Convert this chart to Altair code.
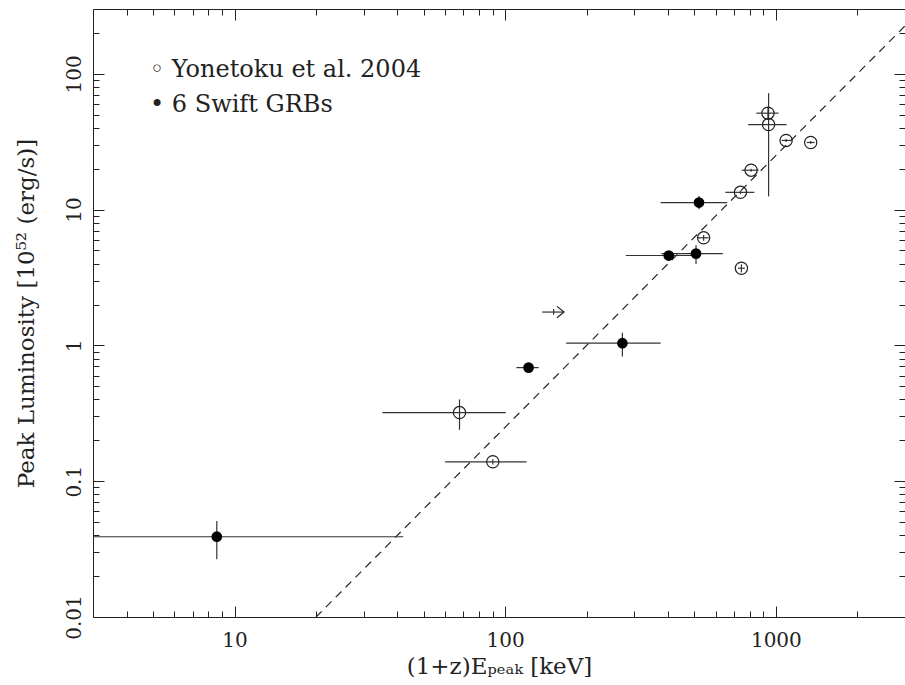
import altair as alt
import pandas as pd

# ---------------- data ----------------
# Yonetoku et al. 2004 (open circles)
yon_x   = [67.8, 90.0, 541, 746, 740, 810, 940, 935, 1091, 1345]
yon_y   = [0.32, 0.139, 6.2, 3.70, 13.4, 19.5, 42.3, 51.3, 32.3, 31.2]
yon_xlo = [35.2, 60.0, 515, 725, 651, 748, 790, 847, 1050, 1300]
yon_xhi = [100.5, 120.0, 565, 768, 833, 863, 1095, 1023, 1130, 1390]
yon_ylo = [0.239, 0.133, 5.9, 3.45, 13.0, 19.0, 12.5, 46.3, 31.5, 30.5]
yon_yhi = [0.40, 0.145, 6.5, 3.95, 13.8, 20.0, 72.0, 56.8, 33.1, 32.0]

# 6 Swift GRBs (filled circles)
swift_x   = [8.6, 122, 271, 402, 507, 520]
swift_y   = [0.039, 0.686, 1.038, 4.59, 4.74, 11.27]
swift_xlo = [2.0, 110, 168, 279, 378, 375]
swift_xhi = [42, 133, 375, 495, 637, 661]
swift_ylo = [0.0266, 0.686, 0.827, 4.59, 3.98, 10.07]
swift_yhi = [0.051, 0.686, 1.24, 4.59, 5.47, 12.6]

# lower limit (arrow)
limit_x   = [151]
limit_y   = [1.76]
limit_xlo = [137]
limit_xhi = [165]
limit_ylo = [1.68]
limit_yhi = [1.85]

# dashed relation
fit_x = [20, 3000]
fit_y = [0.01, 225]

# axis ticks
x_major = [10, 100, 1000]
x_minor = [4, 5, 6, 7, 8, 9, 20, 30, 40, 50, 60, 70, 80, 90,
           200, 300, 400, 500, 600, 700, 800, 900, 2000]
y_major = [0.01, 0.1, 1, 10, 100]
y_minor = [0.02, 0.03, 0.04, 0.05, 0.06, 0.07, 0.08, 0.09,
           0.2, 0.3, 0.4, 0.5, 0.6, 0.7, 0.8, 0.9,
           2, 3, 4, 5, 6, 7, 8, 9, 20, 30, 40, 50, 60, 70, 80, 90, 200]

legend_labels = ["\u25e6 Yonetoku et al. 2004", "\u2022 6 Swift GRBs"]
x_title = "(1+z)E\u209a\u2091\u2090\u2096 [keV]"
y_title = "Peak Luminosity [10\u2075\u00b2 (erg/s)]"

# ---------------- tables ----------------
err = pd.DataFrame({
    "x": yon_x + swift_x + limit_x,
    "y": yon_y + swift_y + limit_y,
    "xlo": yon_xlo + swift_xlo + limit_xlo,
    "xhi": yon_xhi + swift_xhi + limit_xhi,
    "ylo": yon_ylo + swift_ylo + limit_ylo,
    "yhi": yon_yhi + swift_yhi + limit_yhi,
})
yon = pd.DataFrame({"x": yon_x, "y": yon_y})
swift = pd.DataFrame({"x": swift_x, "y": swift_y})
lim = pd.DataFrame({"x": limit_x, "y": limit_y, "xlo": limit_xlo, "xhi": limit_xhi})
fit = pd.DataFrame({"x": fit_x, "y": fit_y})

FONT = "DejaVu Serif"
INK = "#222222"
W, H = 812, 608

xs = alt.Scale(type="log", domain=[3, 3000], nice=False)
ys = alt.Scale(type="log", domain=[0.01, 300], nice=False)


def tick_axis(orient, values, size):
    return alt.Axis(orient=orient, values=values, tickSize=size, offset=-size,
                    labels=False, domain=False, grid=False, ticks=True,
                    tickColor=INK, tickWidth=1, title=None)


x_axis_main = alt.Axis(
    orient="bottom", values=x_major, tickSize=11, offset=-11, domain=False, grid=False,
    tickColor=INK, tickWidth=1, labelFont=FONT, labelFontSize=20, labelColor=INK,
    labelPadding=13, labelBaseline="top", labelAlign="center", labelFlush=False,
    labelOverlap=False, format="~g",
    title=x_title, titleFont=FONT, titleFontSize=23, titleFontWeight="normal",
    titleColor=INK, titleY=67, titleBaseline="alphabetic")

y_axis_main = alt.Axis(
    orient="left", values=y_major, tickSize=11, offset=-11, domain=False, grid=False,
    tickColor=INK, tickWidth=1, labelFont=FONT, labelFontSize=20, labelColor=INK,
    labelPadding=13, labelAngle=270, labelAlign="center", labelBaseline="alphabetic",
    labelFlush=False, labelOverlap=False, format="~g",
    title=y_title, titleFont=FONT, titleFontSize=23, titleFontWeight="normal",
    titleColor=INK, titleX=-71, titleY=H / 2, titleAngle=270, titleAlign="center",
    titleBaseline="alphabetic")

fit_line = alt.Chart(fit).mark_line(color=INK, strokeWidth=1.2, strokeDash=[8, 6]).encode(
    x=alt.X("x:Q", scale=xs, axis=x_axis_main),
    y=alt.Y("y:Q", scale=ys, axis=y_axis_main),
)

xerr = alt.Chart(err).mark_rule(color="#333333", strokeWidth=1.2, clip=True).encode(
    x=alt.X("xlo:Q", scale=xs, axis=tick_axis("bottom", x_minor, 6)),
    x2="xhi:Q",
    y=alt.Y("y:Q", scale=ys, axis=tick_axis("left", y_minor, 6)),
)

yerr = alt.Chart(err).mark_rule(color="#333333", strokeWidth=1.2, clip=True).encode(
    x=alt.X("x:Q", scale=xs, axis=tick_axis("top", x_major, 11)),
    y=alt.Y("ylo:Q", scale=ys, axis=tick_axis("right", y_major, 11)),
    y2="yhi:Q",
)

open_pts = alt.Chart(yon).mark_point(shape="circle", filled=False, size=150,
                                     color=INK, strokeWidth=1.2, opacity=1).encode(
    x=alt.X("x:Q", scale=xs, axis=tick_axis("top", x_minor, 6)),
    y=alt.Y("y:Q", scale=ys, axis=tick_axis("right", y_minor, 6)),
)

filled_pts = alt.Chart(swift).mark_point(shape="circle", filled=True, size=115,
                                         color="black", opacity=1).encode(
    x=alt.X("x:Q", scale=xs, axis=None),
    y=alt.Y("y:Q", scale=ys, axis=None),
)

arrow_head = alt.Chart(lim).mark_point(
    shape="M-1,-0.8L0,0L-1,0.8", filled=False, size=200, color=INK,
    strokeWidth=1.2, opacity=1).encode(
    x=alt.X("xhi:Q", scale=xs, axis=None),
    y=alt.Y("y:Q", scale=ys, axis=None),
)

legend1 = alt.Chart(pd.DataFrame({"t": [legend_labels[0]]})).mark_text(
    font=FONT, fontSize=24, color=INK, align="left", baseline="alphabetic").encode(
    x=alt.value(57), y=alt.value(68), text="t:N")
legend2 = alt.Chart(pd.DataFrame({"t": [legend_labels[1]]})).mark_text(
    font=FONT, fontSize=24, color=INK, align="left", baseline="alphabetic").encode(
    x=alt.value(57), y=alt.value(103), text="t:N")

chart = alt.layer(
    fit_line, xerr, yerr, open_pts, filled_pts, arrow_head, legend1, legend2
).resolve_axis(x="independent", y="independent").properties(
    width=W, height=H,
    autosize=alt.AutoSizeParams(type="none"),
    padding={"left": 93, "top": 9, "right": 0, "bottom": 60},
    background="white",
).configure_view(stroke=INK, strokeWidth=1)

chart.save("out.html", embed_options={"renderer": "svg", "actions": False})
